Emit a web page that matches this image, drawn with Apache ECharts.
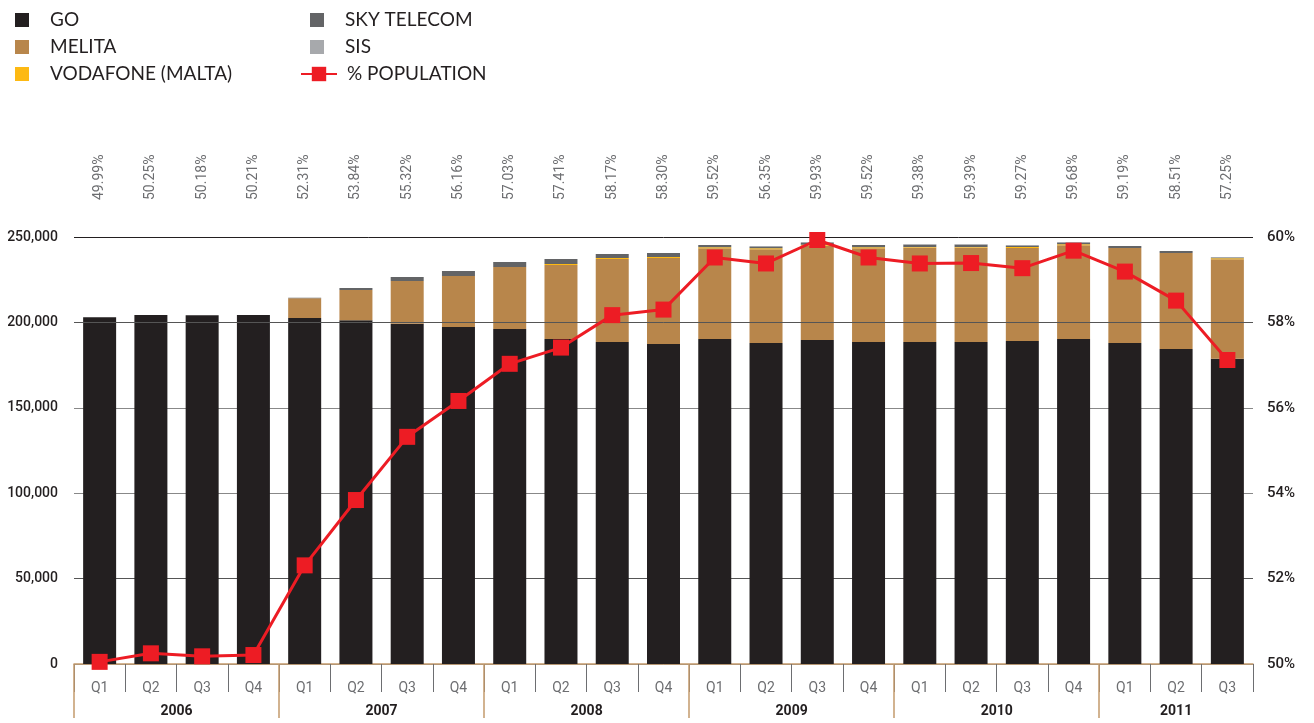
<!DOCTYPE html>
<html>
<head>
<meta charset="utf-8">
<script src="https://cdn.jsdelivr.net/npm/echarts@6/dist/echarts.min.js"></script>
<style>
  html, body { margin: 0; padding: 0; background: #fff; }
  #main { width: 1314px; height: 723px; }
</style>
</head>
<body>
<div id="main"></div>
<script>
// quarters and years
var quarters = ['Q1','Q2','Q3','Q4', 'Q1','Q2','Q3','Q4', 'Q1','Q2','Q3','Q4',
                'Q1','Q2','Q3','Q4', 'Q1','Q2','Q3','Q4', 'Q1','Q2','Q3'];
var years = ['2006', '2007', '2008', '2009', '2010', '2011'];
var yearStarts = [0, 4, 8, 12, 16, 20];
var yearMiddles = [2, 6, 10, 14, 18, 21.5];

// subscribers per operator
var goData     = [203000, 204300, 204200, 204300, 202600, 201200, 199200, 197300, 196100, 190300, 188500, 187400,
                  190300, 187900, 189700, 188500, 188500, 188500, 189100, 190300, 187900, 184400, 178700];
var melitaData = [0, 0, 0, 0, 11500, 17800, 25100, 29900, 36300, 43300, 48600, 50300,
                  53100, 54900, 55200, 54900, 55400, 55400, 54400, 54800, 55700, 56200, 58200];
var vodaData   = [0, 0, 0, 0, 0, 0, 0, 0, 0, 600, 600, 600,
                  600, 600, 600, 600, 300, 300, 600, 600, 0, 0, 600];
var skyData    = [0, 0, 0, 0, 400, 1100, 2300, 2900, 3000, 2900, 2300, 2300,
                  1300, 800, 1000, 1300, 1200, 1200, 600, 800, 1100, 1200, 200];
var sisData    = [0, 0, 0, 0, 0, 0, 0, 0, 0, 0, 0, 0,
                  0, 500, 600, 0, 500, 500, 600, 600, 0, 0, 600];

// % population: plotted points and printed labels
var popLine   = [50.05, 50.25, 50.18, 50.21, 52.31, 53.84, 55.32, 56.16, 57.03, 57.41, 58.17, 58.30,
                 59.52, 59.38, 59.93, 59.52, 59.38, 59.39, 59.27, 59.68, 59.19, 58.51, 57.12];
var popLabels = ['49.99%', '50.25%', '50.18%', '50.21%', '52.31%', '53.84%', '55.32%', '56.16%', '57.03%', '57.41%', '58.17%', '58.30%',
                 '59.52%', '56.35%', '59.93%', '59.52%', '59.38%', '59.39%', '59.27%', '59.68%', '59.19%', '58.51%', '57.25%'];

var myChart = echarts.init(document.getElementById('main'));

var numFont = 'Roboto';
var legendText = { fontFamily: 'Lato', fontSize: 19, color: '#231f20', lineHeight: 20, padding: [0, 0, 0, 16] };

function barSeries(name, data, color) {
  return {
    name: name,
    type: 'bar',
    stack: 'subs',
    barWidth: 33,
    data: data,
    itemStyle: { color: color },
    emphasis: { disabled: true }
  };
}

var series = [
  barSeries('GO', goData, '#231f20'),
  barSeries('MELITA', melitaData, '#b8864b'),
  barSeries('VODAFONE (MALTA)', vodaData, '#fdb913'),
  barSeries('SKY TELECOM', skyData, '#636466'),
  barSeries('SIS', sisData, '#a7a9ac'),
  {
    name: '% POPULATION',
    type: 'line',
    yAxisIndex: 1,
    data: popLine,
    symbol: 'rect',
    symbolSize: 16,
    clip: false,
    z: 10,
    lineStyle: { color: '#ed1c24', width: 3 },
    itemStyle: { color: '#ed1c24' },
    emphasis: { disabled: true }
  }
];
// 200,000 line shows over the bars
series[4].markLine = {
  silent: true,
  symbol: 'none',
  label: { show: false },
  lineStyle: { color: '#555', width: 1, type: 'solid' },
  data: [{ yAxis: 200000 }]
};

option = {
  animation: false,
  backgroundColor: '#fff',
  legend: [
    {
      orient: 'vertical', left: 10, top: 5,
      itemWidth: 14, itemHeight: 14, itemGap: 7,
      icon: 'rect',
      data: ['GO', 'MELITA', 'VODAFONE (MALTA)'],
      textStyle: legendText
    },
    {
      orient: 'vertical', left: 305, top: 5,
      itemWidth: 14, itemHeight: 14, itemGap: 7,
      icon: 'rect',
      data: ['SKY TELECOM', 'SIS'],
      textStyle: legendText
    },
    {
      orient: 'vertical', left: 295, top: 59,
      itemWidth: 36, itemHeight: 18,
      data: ['% POPULATION'],
      textStyle: { fontFamily: 'Lato', fontSize: 19, color: '#231f20', lineHeight: 20, padding: [0, 0, 0, 5] }
    }
  ],
  grid: { left: 74, right: 61, top: 237, bottom: 59 },
  xAxis: [
    {
      type: 'category',
      data: quarters,
      position: 'bottom',
      axisLine: { lineStyle: { color: '#c49a6c', width: 1.5 } },
      axisTick: { show: true, interval: 0, length: 28, lineStyle: { color: '#6d6e71', width: 1 } },
      axisLabel: { interval: 0, margin: 17, color: '#6d6e71', fontFamily: numFont, fontSize: 14 }
    },
    {
      type: 'value',
      min: 0, max: 23,
      position: 'bottom',
      axisLine: { show: false },
      splitLine: { show: false },
      axisTick: { show: true, customValues: yearStarts, length: 54, lineStyle: { color: '#c49a6c', width: 1.5 } },
      axisLabel: {
        customValues: yearMiddles, margin: 40,
        color: '#231f20', fontFamily: numFont, fontWeight: 'bold', fontSize: 14,
        formatter: function (v) { return years[yearMiddles.indexOf(v)]; }
      }
    },
    {
      type: 'category',
      data: popLabels,
      position: 'top',
      axisLine: { show: false },
      axisTick: { show: false },
      axisLabel: { interval: 0, rotate: -90, margin: 37, color: '#6d6e71', fontFamily: numFont, fontSize: 14 }
    }
  ],
  yAxis: [
    {
      type: 'value',
      min: 0, max: 250000, interval: 50000,
      axisLine: { show: false },
      axisTick: { show: false },
      splitLine: { lineStyle: { color: ['#888', '#555', '#888', '#888', '#555', '#231f20'], width: 1 } },
      axisLabel: {
        margin: 16, color: '#231f20', fontFamily: numFont, fontWeight: 500, fontSize: 14,
        formatter: function (v) { return v.toLocaleString('en-US'); }
      }
    },
    {
      type: 'value',
      min: 50, max: 60, interval: 2,
      position: 'right',
      axisLine: { show: false },
      axisTick: { show: false },
      splitLine: { show: false },
      axisLabel: { margin: 14, color: '#231f20', fontFamily: numFont, fontWeight: 500, fontSize: 15, formatter: '{value}%' }
    }
  ],
  series: series
};

myChart.setOption(option);
</script>
</body>
</html>
